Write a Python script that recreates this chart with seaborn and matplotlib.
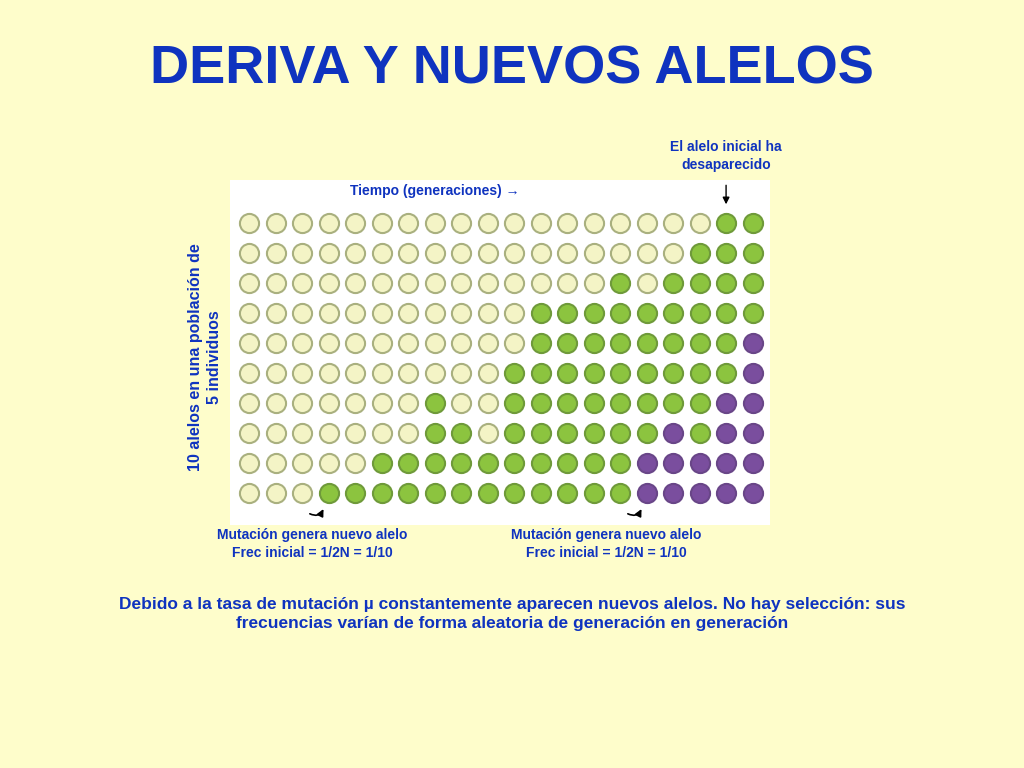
import matplotlib
matplotlib.use("Agg")
import matplotlib.pyplot as plt
import pandas as pd
import seaborn as sns

# 0 = original allele, 1 = first new allele, 2 = second new allele
# rows top to bottom, 20 generations each
ROWS = [
    "00000000000000000011",
    "00000000000000000111",
    "00000000000000101111",
    "00000000000111111111",
    "00000000000111111112",
    "00000000001111111112",
    "00000001001111111122",
    "00000001101111112122",
    "00000111111111122222",
    "00011111111111122222",
]
ALLELES = {"0": "inicial", "1": "nuevo 1", "2": "nuevo 2"}
FILLS = {"inicial": "#F4F4C6", "nuevo 1": "#8CC43F", "nuevo 2": "#7A4E9E"}
EDGES = {"inicial": "#A9B07F", "nuevo 1": "#6F9A3A", "nuevo 2": "#694688"}

records = []
for r, row in enumerate(ROWS, start=1):
    for g, ch in enumerate(row, start=1):
        records.append({"gen": g, "fila": r, "alelo": ALLELES[ch]})
df = pd.DataFrame(records)

BG = "#FEFDCB"
BLUE = "#0F33BF"
plt.rcParams["font.family"] = "Liberation Sans"

fig = plt.figure(figsize=(10.24, 7.68), dpi=100, facecolor=BG)
ax = fig.add_axes([230 / 1024, 1 - 525 / 768, 540 / 1024, 345 / 768])
ax.set_facecolor("white")

for allele, sub in df.groupby("alelo"):
    sns.scatterplot(data=sub, x="gen", y="fila", ax=ax, s=190, color=FILLS[allele],
                    edgecolor=EDGES[allele], linewidth=1.5, legend=False)

ax.set_xlim(0.28, 0.28 + 540 / 26.5)
ax.set_ylim(10 + 32 / 30, 1 - 43 / 30)
ax.set_xticks([])
ax.set_yticks([])
ax.set_xlabel("")
ax.set_ylabel("")
for sp in ax.spines.values():
    sp.set_visible(False)

fig.text(0.5, 1 - 70 / 768, "DERIVA Y NUEVOS ALELOS", ha="center", va="center",
         fontsize=39, fontweight="bold", color=BLUE)
fig.text(435 / 1024, 1 - 191 / 768, "Tiempo (generaciones) →", ha="center", va="center",
         fontsize=10, fontweight="bold", color=BLUE)
fig.text(726 / 1024, 1 - 156 / 768, "El alelo inicial ha\ndesaparecido", ha="center",
         va="center", fontsize=10, fontweight="bold", color=BLUE, linespacing=1.4)
fig.text(205 / 1024, 1 - 357 / 768, "10 alelos en una población de\n5 individuos", ha="center",
         va="center", rotation=90, fontsize=11.5, fontweight="bold", color=BLUE, linespacing=1.3)
for xc in (312, 606):
    fig.text(xc / 1024, 1 - 544 / 768, "Mutación genera nuevo alelo\nFrec inicial = 1/2N = 1/10",
             ha="center", va="center", fontsize=10, fontweight="bold", color=BLUE, linespacing=1.45)
fig.text(0.5, 1 - 614 / 768,
         "Debido a la tasa de mutación µ constantemente aparecen nuevos alelos. No hay selección: sus\n"
         "frecuencias varían de forma aleatoria de generación en generación",
         ha="center", va="center", fontsize=12.5, fontweight="bold", color=BLUE, linespacing=1.4)

# arrow pointing at the generation where the initial allele is gone
ax.annotate("", xy=(19, 0.47), xytext=(19, -0.35), xycoords="data",
            arrowprops=dict(arrowstyle="-|>", color="black", lw=1), annotation_clip=False)
# curved arrows marking the mutations
for g in (4, 16):
    ax.annotate("", xy=(g - 0.15, 10.45), xytext=(g - 0.8, 10.65), xycoords="data",
                arrowprops=dict(arrowstyle="-|>", color="black", lw=1.2,
                                connectionstyle="arc3,rad=0.6"), annotation_clip=False)

fig.savefig("out.png", dpi=100, facecolor=BG)
